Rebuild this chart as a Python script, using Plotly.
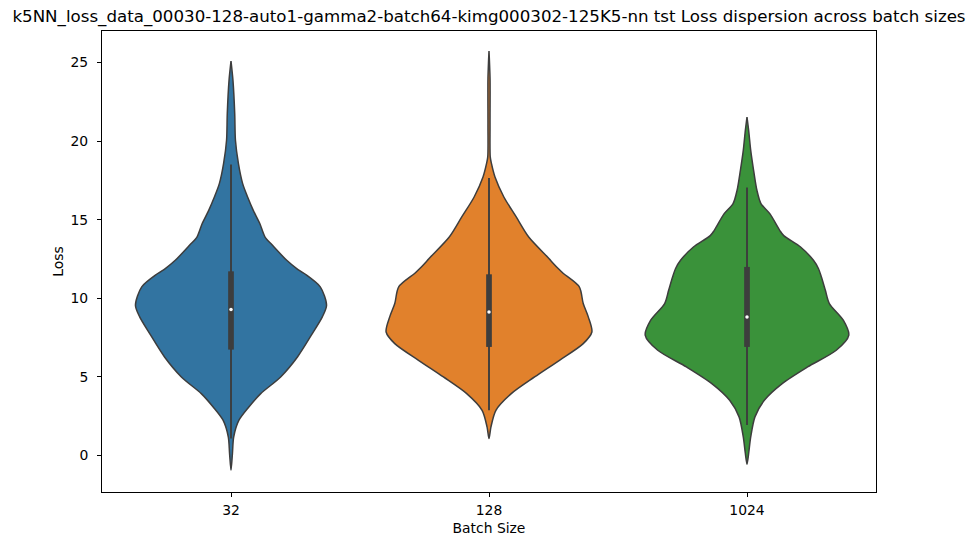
import plotly.graph_objects as go

# batch sizes (categories)
batch_sizes = ["32", "128", "1024"]
colors = ["#3274a1", "#e1812c", "#3a923a"]
edge = "#3d3d3d"

# violin outlines: loss level -> relative density (widest = 1)
loss_32 = [-0.94, 0.13, 1.18, 2.25, 3.09, 3.94, 5.0, 6.27, 7.76, 8.82, 9.56, 10.73, 11.58,
           11.88, 12.42, 13.39, 13.9, 14.76, 15.6, 16.45, 17.3, 18.57, 20.06, 21.76, 23.87, 25.1]
dens_32 = [0, 0.014, 0.026, 0.077, 0.173, 0.288, 0.481, 0.644, 0.788, 0.885, 0.926, 0.865, 0.71,
           0.64, 0.54, 0.40, 0.33, 0.279, 0.216, 0.161, 0.113, 0.072, 0.043, 0.036, 0.019, 0]

loss_128 = [1.08, 1.82, 2.88, 3.94, 5.0, 6.06, 7.12, 7.86, 8.82, 9.67, 10.73, 11.58, 11.88,
            12.42, 12.63, 13.9, 15.18, 16.45, 17.72, 18.57, 19.0, 21.0, 24.0, 25.74]
dens_128 = [0, 0.019, 0.067, 0.216, 0.442, 0.683, 0.913, 0.997, 0.962, 0.913, 0.875, 0.721, 0.673,
            0.596, 0.567, 0.385, 0.264, 0.144, 0.058, 0.024, 0.012, 0.010, 0.010, 0]

loss_1024 = [-0.55, 0.13, 1.18, 2.46, 3.52, 4.58, 5.64, 6.7, 7.65, 8.61, 9.67, 10.5, 11.36,
             11.9, 12.42, 13.27, 13.99, 14.33, 15.39, 16.03, 16.88, 18.15, 19.42, 20.69, 21.54]
dens_1024 = [0, 0.016, 0.036, 0.077, 0.168, 0.341, 0.587, 0.865, 0.986, 0.933, 0.798, 0.76, 0.721,
             0.692, 0.644, 0.519, 0.356, 0.317, 0.221, 0.135, 0.096, 0.064, 0.036, 0.016, 0]

# inner box stats: q1, median, q3, lower whisker, upper whisker
q1 = [6.74, 6.91, 6.91]
median = [9.29, 9.14, 8.82]
q3 = [11.72, 11.53, 12.0]
whisk_lo = [1.08, 2.88, 1.95]
whisk_hi = [18.51, 17.66, 17.05]

losses = [loss_32, loss_128, loss_1024]
densities = [dens_32, dens_128, dens_1024]
half_width = 0.4

fig = go.Figure()
for i, (ys, ds) in enumerate(zip(losses, densities)):
    xs = [i + d * half_width for d in ds] + [i - d * half_width for d in ds[::-1]]
    yy = ys + ys[::-1]
    fig.add_trace(go.Scatter(x=xs, y=yy, mode="lines", fill="toself", fillcolor=colors[i],
                             line=dict(color=edge, width=1.5, shape="spline", smoothing=0.8),
                             hoverinfo="skip", showlegend=False))
    fig.add_trace(go.Scatter(x=[i, i], y=[whisk_lo[i], whisk_hi[i]], mode="lines",
                             line=dict(color=edge, width=1.9), showlegend=False))
    fig.add_trace(go.Scatter(x=[i, i], y=[q1[i], q3[i]], mode="lines",
                             line=dict(color=edge, width=5.7), showlegend=False))
    fig.add_trace(go.Scatter(x=[i], y=[median[i]], mode="markers",
                             marker=dict(color="white", size=3.5), showlegend=False))

font = "DejaVu Sans"
axis_style = dict(showline=True, linecolor="black", linewidth=1, mirror=True,
                  ticks="outside", ticklen=4, tickwidth=1, tickcolor="black",
                  showgrid=False, zeroline=False, automargin=False,
                  tickfont=dict(family=font, size=13.9, color="black"))

# page body has an 8px margin, so the figure is 16px smaller than the window
W, H = 960, 529
fig.update_layout(
    width=W, height=H,
    margin=dict(l=94, r=92, t=23, b=45),
    plot_bgcolor="white", paper_bgcolor="white",
    title=dict(text="k5NN_loss_data_00030-128-auto1-gamma2-batch64-kimg000302-125K5-nn tst Loss dispersion across batch sizes",
               x=0.5, xref="paper", y=1 - 8 / H, yanchor="middle",
               font=dict(family=font, size=16.67, color="black")),
    xaxis=dict(range=[-0.5, 2.5], tickvals=[0, 1, 2], ticktext=batch_sizes,
               title=dict(text="Batch Size", standoff=6,
                          font=dict(family=font, size=13.9, color="black")),
               ticklabelstandoff=1, **axis_style),
    yaxis=dict(range=[-2.32, 27.01], tickvals=[0, 5, 10, 15, 20, 25],
               title=dict(text="Loss", standoff=3,
                          font=dict(family=font, size=13.9, color="black")),
               ticklabelstandoff=6, **axis_style),
)

fig.write_html("out.html")
